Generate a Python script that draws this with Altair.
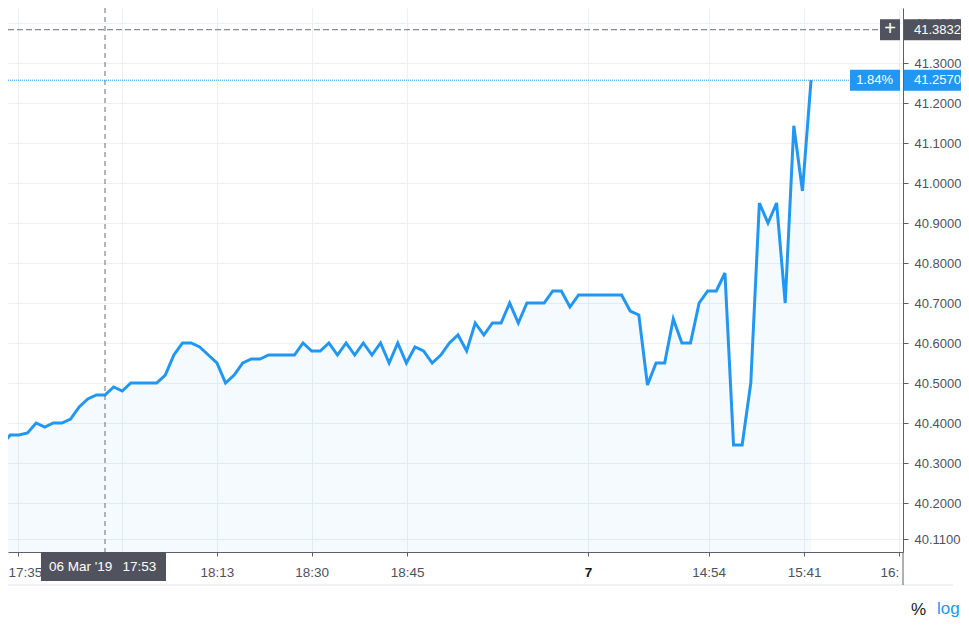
import altair as alt
import pandas as pd

# ---- data ----
values = [40.33, 40.345, 40.37, 40.37, 40.375, 40.40, 40.39, 40.40, 40.40, 40.41,
          40.44, 40.46, 40.47, 40.47, 40.49, 40.48, 40.50, 40.50, 40.50, 40.50,
          40.52, 40.57, 40.60, 40.60, 40.59, 40.57, 40.55, 40.50, 40.52, 40.55,
          40.56, 40.56, 40.57, 40.57, 40.57, 40.57, 40.60, 40.58, 40.58, 40.60,
          40.57, 40.60, 40.57, 40.60, 40.57, 40.60, 40.55, 40.60, 40.55, 40.59,
          40.58, 40.55, 40.57, 40.60, 40.62, 40.58, 40.65, 40.62, 40.65, 40.65,
          40.70, 40.65, 40.70, 40.70, 40.70, 40.73, 40.73, 40.69, 40.72, 40.72,
          40.72, 40.72, 40.72, 40.72, 40.68, 40.67, 40.495, 40.55, 40.55, 40.66,
          40.60, 40.60, 40.70, 40.73, 40.73, 40.775, 40.345, 40.345, 40.50, 40.95,
          40.90, 40.95, 40.70, 41.143, 40.98, 41.257]
bar_index = list(range(len(values)))

x_ticks = [2.9, 15.0, 26.0, 37.0, 48.1, 69.1, 83.1, 94.2, 105.2]
x_labels = ["17:35", "", "18:13", "18:30", "18:45", "7", "14:54", "15:41", "16:"]
day_tick = 69.1
y_ticks = [40.11, 40.2, 40.3, 40.4, 40.5, 40.6, 40.7, 40.8, 40.9, 41.0, 41.1, 41.2, 41.3, 41.4]

cross_index = 13
cross_price = 41.3832
cross_date = "06 Mar '19"
cross_time = "17:53"
last_price = 41.2570
last_change = "1.84%"

# ---- layout / style ----
W, H = 895, 544
XD = [1.734, 105.68]
YD = [40.0775, 41.4375]
BLUE = "#2196f3"
DARK = "#50535e"
AXC = "#5d606b"
GRID = "#eceff3"
FONT = "Liberation Sans"

xs = alt.Scale(domain=XD, nice=False, zero=False)
ys = alt.Scale(domain=YD, nice=False, zero=False)

label_expr = " : ".join(
    f"abs(datum.value - {t}) < 0.01 ? '{l}'" for t, l in zip(x_ticks, x_labels)
) + " : ''"

x_axis = alt.Axis(
    orient="bottom", values=x_ticks, labelExpr=label_expr, grid=True,
    gridColor=GRID, gridWidth=1, domainColor=AXC, tickColor=AXC, tickSize=4,
    labelPadding=9, labelFont=FONT, labelFontSize=13.5,
    labelColor=alt.ExprRef(expr=f"abs(datum.value - {day_tick}) < 0.01 ? '#131722' : '#4c525e'"),
    labelFontWeight=alt.ExprRef(expr=f"abs(datum.value - {day_tick}) < 0.01 ? 'bold' : 'normal'"),
    labelAlign=alt.ExprRef(expr="datum.value > 100 ? 'right' : (datum.value < 5 ? 'left' : 'center')"),
    labelOffset=alt.ExprRef(expr="datum.value < 5 ? -10 : 0"),
    labelOverlap=False, labelFlush=False, labelBound=False, title=None,
)
y_axis = alt.Axis(
    orient="right", values=y_ticks, format=".4f", grid=True, gridColor=GRID,
    gridWidth=1, domainColor=AXC, tickColor=AXC, tickSize=5, labelPadding=6,
    labelFont=FONT, labelFontSize=13, labelColor="#4c525e",
    labelOverlap=False, labelFlush=False, title=None,
)

df = pd.DataFrame({"i": bar_index, "v": values})
one = pd.DataFrame({"k": [0]})

area = alt.Chart(df).mark_area(clip=True, color=BLUE, opacity=0.05).encode(
    x=alt.X("i:Q", scale=xs, axis=x_axis),
    y=alt.Y("v:Q", scale=ys, axis=y_axis),
    y2=alt.value(H),
)
line = alt.Chart(df).mark_line(clip=True, color=BLUE, strokeWidth=3).encode(
    x=alt.X("i:Q", scale=xs, title=None),
    y=alt.Y("v:Q", scale=ys, title=None),
)

def XD_(v):
    return alt.X(datum=v, type="quantitative", scale=xs, title=None)

def YD_(v):
    return alt.Y(datum=v, type="quantitative", scale=ys, title=None)

vcross = alt.Chart(one).mark_rule(color="#6a6d78", strokeWidth=1, strokeDash=[5, 4]).encode(
    x=XD_(cross_index), y=alt.value(0), y2=alt.value(H))
hcross = alt.Chart(one).mark_rule(color="#6a6d78", strokeWidth=1, strokeDash=[6, 3]).encode(
    y=YD_(cross_price), x=alt.value(0), x2=alt.value(872))
pline = alt.Chart(one).mark_rule(color=BLUE, strokeWidth=1, strokeDash=[1, 1]).encode(
    y=YD_(last_price), x=alt.value(0), x2=alt.value(842))

# price-scale label boxes
cross_box = alt.Chart(one).mark_rule(color=DARK, strokeWidth=21).encode(
    y=YD_(cross_price), x=alt.value(896), x2=alt.value(960))
plus_box = alt.Chart(one).mark_rule(color=DARK, strokeWidth=21).encode(
    y=YD_(cross_price), x=alt.value(872), x2=alt.value(892))
last_box = alt.Chart(one).mark_rule(color=BLUE, strokeWidth=21).encode(
    y=YD_(last_price), x=alt.value(896), x2=alt.value(960))
chg_box = alt.Chart(one).mark_rule(color=BLUE, strokeWidth=21).encode(
    y=YD_(last_price), x=alt.value(842), x2=alt.value(892))

txt = dict(font=FONT, fontSize=13, color="white", baseline="middle")
cross_txt = alt.Chart(one).mark_text(align="left", **txt).encode(
    y=YD_(cross_price), x=alt.value(906), text=alt.value(f"{cross_price:.4f}"))
plus_txt = alt.Chart(one).mark_text(align="center", font=FONT, fontSize=20,
                                    color="white", baseline="middle", dy=-1).encode(
    y=YD_(cross_price), x=alt.value(882), text=alt.value("+"))
last_txt = alt.Chart(one).mark_text(align="left", **txt).encode(
    y=YD_(last_price), x=alt.value(906), text=alt.value(f"{last_price:.4f}"))
chg_txt = alt.Chart(one).mark_text(align="right", **txt).encode(
    y=YD_(last_price), x=alt.value(885), text=alt.value(last_change))

# time-scale crosshair label
date_box = alt.Chart(one).mark_rule(color=DARK, strokeWidth=29, xOffset=-64, x2Offset=61).encode(
    x=XD_(cross_index), x2=alt.X2(datum=cross_index), y=alt.value(558.5))
date_txt = alt.Chart(one).mark_text(align="left", dx=-56, font=FONT, fontSize=13.5,
                                    color="white", baseline="middle").encode(
    x=XD_(cross_index), y=alt.value(558.5), text=alt.value(cross_date))
time_txt = alt.Chart(one).mark_text(align="left", dx=17.5, font=FONT, fontSize=13.5,
                                    color="white", baseline="middle").encode(
    x=XD_(cross_index), y=alt.value(558.5), text=alt.value(cross_time))

# footer pieces
sep = alt.Chart(one).mark_rule(color="#e0e3eb", strokeWidth=1).encode(
    y=alt.value(577), x=alt.value(0), x2=alt.value(945))
yext = alt.Chart(one).mark_rule(color=AXC, strokeWidth=1).encode(
    x=alt.value(895), y=alt.value(544), y2=alt.value(577))
pct = alt.Chart(one).mark_text(align="left", baseline="middle", font=FONT, fontSize=17,
                               color="#131722").encode(
    x=alt.value(903), y=alt.value(602), text=alt.value("%"))
logt = alt.Chart(one).mark_text(align="left", baseline="middle", font=FONT, fontSize=17,
                                color=BLUE).encode(
    x=alt.value(929), y=alt.value(601), text=alt.value("log"))

chart = alt.layer(
    area, line, vcross, hcross, pline,
    cross_box, plus_box, last_box, chg_box,
    cross_txt, plus_txt, last_txt, chg_txt,
    date_box, date_txt, time_txt, sep, yext, pct, logt,
).properties(
    width=W, height=H,
    padding={"left": 0, "top": 0, "right": 58, "bottom": 68},
    autosize=alt.AutoSizeParams(type="none"),
    background="white",
).configure_view(stroke=None)

chart.save("out.html", embed_options={"renderer": "svg", "actions": False})
